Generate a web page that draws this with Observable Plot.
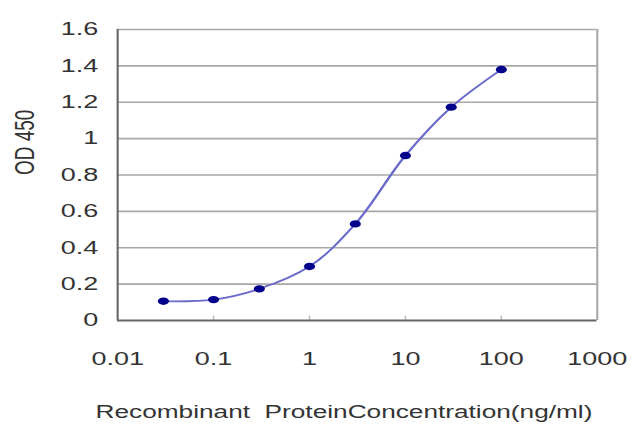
<!DOCTYPE html>
<html>
<head>
<meta charset="utf-8">
<script src="https://cdn.jsdelivr.net/npm/d3@7"></script>
<script src="https://cdn.jsdelivr.net/npm/@observablehq/plot@0.6"></script>
<style>
  html, body { margin: 0; padding: 0; background: #fff; }
  #chart { width: 640px; height: 427px; overflow: hidden; }
</style>
</head>
<body>
<div id="chart"></div>
<script>
// Data
const concentration = [0.03, 0.1, 0.3, 1, 3, 10, 30, 100];
const od450 = [0.106, 0.115, 0.174, 0.297, 0.531, 0.907, 1.173, 1.38];

const xTicks = [0.01, 0.1, 1, 10, 100, 1000];
const xTickLabels = ["0.01", "0.1", "1", "10", "100", "1000"];
const yTicks = [0, 0.2, 0.4, 0.6, 0.8, 1, 1.2, 1.4, 1.6];
const yTickLabels = ["0", "0.2", "0.4", "0.6", "0.8", "1", "1.2", "1.4", "1.6"];
const minorTicks = [0.1, 1, 10, 100];

const xLabel = "Recombinant  ProteinConcentration(ng/ml)";
const yLabel = "OD 450";

const points = concentration.map((c, i) => ({ c, od: od450[i] }));
const xTickData = xTicks.map((v, i) => ({ v, label: xTickLabels[i] }));

// the reference image is horizontally stretched; draw in a narrower space and stretch
const OUT_W = 640, OUT_H = 427;
const VW = 427, VH = 427;
const textColor = "#333";

const svg = Plot.plot({
  width: VW,
  height: VH,
  marginLeft: 78,
  marginRight: 29,
  marginTop: 29,
  marginBottom: 107,
  style: { fontFamily: "'Liberation Sans', Arial, sans-serif", fontSize: "18px", color: textColor, background: "#fff" },
  x: { type: "log", domain: [0.01, 1000], axis: null },
  y: { domain: [0, 1.6], axis: null },
  marks: [
    Plot.ruleY(yTicks.slice(1), { stroke: "#a8a8a8", strokeWidth: 1.6 }),
    Plot.ruleX([1000], { stroke: "#a8a8a8", strokeWidth: 1.4 }),
    Plot.ruleX(minorTicks, { y1: 0, y2: 0.025, stroke: "#bbbbbb", strokeWidth: 1 }),
    Plot.ruleY([0], { stroke: "#666", strokeWidth: 1.8 }),
    Plot.ruleX([0.01], { stroke: "#666", strokeWidth: 1.4 }),
    Plot.text(xTickData, { x: "v", text: "label", frameAnchor: "bottom", dy: 39, lineAnchor: "middle", fontSize: 18, fill: textColor }),
    Plot.text(yTicks, { y: d => d, text: (d, i) => yTickLabels[i], frameAnchor: "left", dx: -13, textAnchor: "end", lineAnchor: "middle", fontSize: 18, fill: textColor }),
    Plot.text([xLabel], { frameAnchor: "bottom", dy: 92, dx: -9, lineAnchor: "middle", fontSize: 17.5, fill: textColor }),
    Plot.text([yLabel], { frameAnchor: "left", dx: -62, rotate: -90, lineAnchor: "middle", fontSize: 19, fill: textColor }),
    Plot.line(points, { x: "c", y: "od", curve: "catmull-rom", stroke: "#6a6acc", strokeWidth: 1.7 }),
    Plot.dot(points, { x: "c", y: "od", r: 3.7, fill: "#00008b", stroke: "none" })
  ]
});

svg.setAttribute("viewBox", `0 0 ${VW} ${VH}`);
svg.setAttribute("preserveAspectRatio", "none");
svg.setAttribute("width", OUT_W);
svg.setAttribute("height", OUT_H);
svg.style.width = OUT_W + "px";
svg.style.height = OUT_H + "px";
svg.style.maxWidth = "none";
document.getElementById("chart").appendChild(svg);
</script>
</body>
</html>
